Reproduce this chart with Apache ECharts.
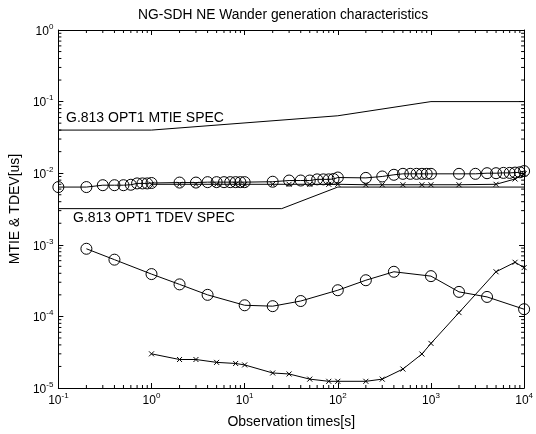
<!DOCTYPE html>
<html><head><meta charset="utf-8">
<script src="https://cdn.jsdelivr.net/npm/echarts@6/dist/echarts.min.js"></script>
<style>html,body{margin:0;padding:0;background:#fff}#c{width:536px;height:434px}</style>
</head><body><div id="c"></div>
<script>
// ---- data ----
const xTickExps = [-1, 0, 1, 2, 3, 4];
const yTickExps = [-5, -4, -3, -2, -1, 0];

const mtieSpecX = [0.1, 1, 100, 1000, 10000];
const mtieSpecY = [0.04, 0.04, 0.0634, 0.1, 0.1];

const tdevSpecX = [0.1, 25, 100, 10000];
const tdevSpecY = [0.0032, 0.0032, 0.0064, 0.0064];

const mtieCircX = [0.1,0.2,0.3,0.4,0.5,0.6,0.7,0.8,0.9,1,
  2,3,4,5,6,7,8,9,10,
  20,30,40,50,60,70,80,90,100,
  200,300,400,500,600,700,800,900,1000,
  2000,3000,4000,5000,6000,7000,8000,9000,10000];
const mtieCircY = [0.0064,0.0064,0.0068,0.0068,0.0068,0.0069,0.0072,0.0072,0.0072,0.0073,
  0.0074,0.0074,0.0075,0.0075,0.0075,0.0075,0.0075,0.0075,0.0075,
  0.0076,0.0079,0.0079,0.0079,0.0082,0.0082,0.0082,0.0083,0.0087,
  0.0086,0.0090,0.0095,0.0098,0.0098,0.0098,0.0098,0.0098,0.0098,
  0.0098,0.0098,0.0100,0.0100,0.0101,0.0101,0.0102,0.0103,0.0107];

const mtieCrossX = [1,2,3,5,8,10,20,30,50,80,100,200,300,500,800,1000,2000,5000,8000,10000];
const mtieCrossY = [0.0070,0.0070,0.0070,0.0070,0.0070,0.0070,0.0070,0.0070,0.0070,0.0070,
  0.0070,0.0069,0.0069,0.0069,0.0069,0.0069,0.0069,0.0070,0.0083,0.0098];

const tdevCircX = [0.2,0.4,1,2,4,10,20,40,100,200,400,1000,2000,4000,10000];
const tdevCircY = [8.8e-4,6.2e-4,3.9e-4,2.8e-4,2.0e-4,1.43e-4,1.39e-4,1.64e-4,2.32e-4,
  3.2e-4,4.2e-4,3.65e-4,2.2e-4,1.87e-4,1.26e-4];

const tdevCrossX = [1,2,3,5,8,10,20,30,50,80,100,200,300,500,800,1000,2000,5000,8000,10000];
const tdevCrossY = [3.0e-5,2.5e-5,2.5e-5,2.28e-5,2.2e-5,2.1e-5,1.62e-5,1.57e-5,1.33e-5,1.24e-5,
  1.24e-5,1.24e-5,1.33e-5,1.84e-5,2.98e-5,4.2e-5,1.13e-4,4.2e-4,5.7e-4,4.8e-4];

// minor tick positions (2..9 per decade)
const xMinor = [], yMinor = [];
xTickExps.slice(0, -1).forEach(e => { for (let k = 2; k <= 9; k++) xMinor.push(k * Math.pow(10, e)); });
yTickExps.slice(0, -1).forEach(e => { for (let k = 2; k <= 9; k++) yMinor.push(k * Math.pow(10, e)); });

const FONT = 'Liberation Sans, Arial, Helvetica, sans-serif';
const XMIN = 0.1, XMAX = 10000, YMIN = 1e-5, YMAX = 1;

function zip(a, b) { return a.map((v, i) => [v, b[i]]); }

const rich = {
  b: { fontSize: 12, fontFamily: FONT, color: '#000', verticalAlign: 'bottom' },
  s: { fontSize: 8, fontFamily: FONT, color: '#000', verticalAlign: 'bottom', padding: [0, 0, 7, 0] }
};
function expLabel(v) { return '{b|10}{s|' + Math.round(Math.log10(v)) + '}'; }

const crossSym = 'path://M0 0L10 10M10 0L0 10';
const lineBase = { type: 'line', xAxisIndex: 0, yAxisIndex: 0, lineStyle: { color: '#000', width: 1 }, animation: false, silent: true };

const chart = echarts.init(document.getElementById('c'), null, { renderer: 'canvas' });
chart.setOption({
  backgroundColor: '#fff',
  animation: false,
  title: {
    text: 'NG-SDH NE Wander generation characteristics',
    left: 133, top: 3,
    textStyle: { fontSize: 13.8, fontWeight: 'normal', fontFamily: FONT, color: '#000' }
  },
  grid: { left: 56, right: 9, top: 30, bottom: 45 },
  xAxis: [{
    type: 'log', logBase: 10, min: XMIN, max: XMAX, position: 'bottom',
    name: 'Observation times[s]', nameLocation: 'middle', nameGap: 27,
    nameTextStyle: { fontSize: 14, fontFamily: FONT, color: '#000' },
    axisLine: { lineStyle: { color: '#000', width: 1 } },
    axisTick: { inside: true, length: 5, lineStyle: { color: '#000' } },
    axisLabel: { formatter: expLabel, rich: rich, margin: 4, showMinLabel: true, showMaxLabel: true },
    splitLine: { show: false }
  }, {
    type: 'log', logBase: 10, min: XMIN, max: XMAX, position: 'top',
    axisLine: { lineStyle: { color: '#000', width: 1 } },
    axisTick: { inside: true, length: 5, lineStyle: { color: '#000' } },
    axisLabel: { show: false }, splitLine: { show: false }
  }],
  yAxis: [{
    type: 'log', logBase: 10, min: YMIN, max: YMAX, position: 'left',
    name: 'MTIE & TDEV[us]', nameLocation: 'middle', nameGap: 35,
    nameTextStyle: { fontSize: 14, fontFamily: FONT, color: '#000' },
    axisLine: { lineStyle: { color: '#000', width: 1 } },
    axisTick: { inside: true, length: 5, lineStyle: { color: '#000' } },
    axisLabel: { formatter: expLabel, rich: rich, margin: 5, showMinLabel: true, showMaxLabel: true },
    splitLine: { show: false }
  }, {
    type: 'log', logBase: 10, min: YMIN, max: YMAX, position: 'right',
    axisLine: { lineStyle: { color: '#000', width: 1 } },
    axisTick: { inside: true, length: 5, lineStyle: { color: '#000' } },
    axisLabel: { show: false }, splitLine: { show: false }
  }],
  graphic: [
    { type: 'text', left: 66, top: 111, style: { text: 'G.813 OPT1 MTIE SPEC', font: '14px ' + FONT, fill: '#000' } },
    { type: 'text', left: 73, top: 211, style: { text: 'G.813 OPT1 TDEV SPEC', font: '14px ' + FONT, fill: '#000' } }
  ],
  series: [
    Object.assign({}, lineBase, { name: 'MTIE spec', data: zip(mtieSpecX, mtieSpecY), showSymbol: false, symbol: 'none' }),
    Object.assign({}, lineBase, { name: 'TDEV spec', data: zip(tdevSpecX, tdevSpecY), showSymbol: false, symbol: 'none' }),
    Object.assign({}, lineBase, { name: 'MTIE o', data: zip(mtieCircX, mtieCircY), symbol: 'circle', symbolSize: 11,
      itemStyle: { color: 'rgba(0,0,0,0)', borderColor: '#000', borderWidth: 1 } }),
    Object.assign({}, lineBase, { name: 'MTIE x', data: zip(mtieCrossX, mtieCrossY), symbol: crossSym, symbolSize: 5,
      itemStyle: { color: 'rgba(0,0,0,0)', borderColor: '#000', borderWidth: 1 } }),
    Object.assign({}, lineBase, { name: 'TDEV o', data: zip(tdevCircX, tdevCircY), symbol: 'circle', symbolSize: 11,
      itemStyle: { color: 'rgba(0,0,0,0)', borderColor: '#000', borderWidth: 1 } }),
    Object.assign({}, lineBase, { name: 'TDEV x', data: zip(tdevCrossX, tdevCrossY), symbol: crossSym, symbolSize: 5,
      itemStyle: { color: 'rgba(0,0,0,0)', borderColor: '#000', borderWidth: 1 } }),
    {
      type: 'custom', name: 'xminor', silent: true, animation: false,
      data: xMinor.map(v => [v, YMIN]),
      renderItem: function (params, api) {
        const v = api.value(0);
        const b = api.coord([v, YMIN]), t = api.coord([v, YMAX]);
        const st = { stroke: '#000', lineWidth: 1 };
        return { type: 'group', children: [
          { type: 'line', shape: { x1: b[0], y1: b[1], x2: b[0], y2: b[1] - 3 }, style: st },
          { type: 'line', shape: { x1: t[0], y1: t[1], x2: t[0], y2: t[1] + 3 }, style: st }
        ] };
      }
    },
    {
      type: 'custom', name: 'yminor', silent: true, animation: false,
      data: yMinor.map(v => [XMIN, v]),
      renderItem: function (params, api) {
        const v = api.value(1);
        const l = api.coord([XMIN, v]), r = api.coord([XMAX, v]);
        const st = { stroke: '#000', lineWidth: 1 };
        return { type: 'group', children: [
          { type: 'line', shape: { x1: l[0], y1: l[1], x2: l[0] + 3, y2: l[1] }, style: st },
          { type: 'line', shape: { x1: r[0], y1: r[1], x2: r[0] - 3, y2: r[1] }, style: st }
        ] };
      }
    }
  ]
});
</script>
</body></html>
